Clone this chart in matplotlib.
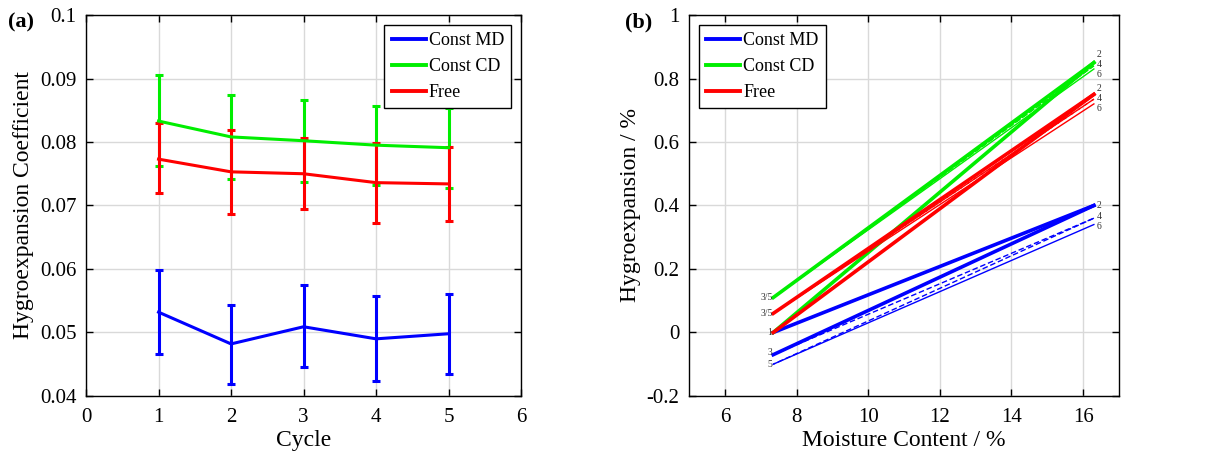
import matplotlib.pyplot as plt
from matplotlib.lines import Line2D

plt.rcParams['font.family'] = ['Liberation Serif', 'DejaVu Serif']
plt.rcParams['mathtext.fontset'] = 'stix'

# --- (a) hygroexpansion coefficient per cycle ---
cycles = [1, 2, 3, 4, 5]

md_mean = [0.0532, 0.0482, 0.0509, 0.0490, 0.0498]
md_low = [0.0466, 0.0419, 0.0446, 0.0424, 0.0435]
md_high = [0.0599, 0.0544, 0.0574, 0.0558, 0.0560]

cd_mean = [0.0833, 0.0808, 0.0802, 0.0795, 0.0791]
cd_low = [0.0762, 0.0741, 0.0737, 0.0733, 0.0727]
cd_high = [0.0905, 0.0874, 0.0866, 0.0856, 0.0853]

free_mean = [0.0773, 0.0753, 0.0750, 0.0736, 0.0734]
free_low = [0.0719, 0.0686, 0.0694, 0.0673, 0.0676]
free_high = [0.0830, 0.0819, 0.0806, 0.0799, 0.0792]

# --- (b) hygroexpansion vs moisture content, turning points 1..6 ---
mc_dry = 7.35
mc_wet = 16.3
md_turns = [0.0, 0.40, -0.07, 0.36, -0.10, 0.34]
cd_turns = [0.0, 0.85, 0.11, 0.84, 0.11, 0.83]
free_turns = [0.0, 0.75, 0.06, 0.735, 0.06, 0.72]
turn_names = ['1', '2', '3', '4', '5', '6']

names = ['Const MD', 'Const CD', 'Free']
colors = ['#0000ff', '#00ee00', '#ff0000']

fig = plt.figure(figsize=(12.05, 4.59), dpi=100)
ax1 = fig.add_axes([0.0714, 0.1373, 0.361, 0.830])
ax2 = fig.add_axes([0.5718, 0.1373, 0.3568, 0.830])

tick_fs = 15
label_fs = 17


def style_axes(ax):
    ax.grid(True, color='#d9d9d9', linewidth=1)
    ax.set_axisbelow(True)
    ax.tick_params(direction='in', length=5, width=1, labelsize=tick_fs,
                   top=True, right=True)
    ax.tick_params(axis='x', pad=9)
    ax.tick_params(axis='y', pad=7)
    ax.xaxis.labelpad = 2
    for s in ax.spines.values():
        s.set_linewidth(1)


def add_legend(ax, loc):
    handles = [Line2D([], [], color=c, linewidth=2.8) for c in colors]
    leg = ax.legend(handles, names, loc=loc, fontsize=13, frameon=True,
                    fancybox=False, edgecolor='black', framealpha=1,
                    handlelength=1.9, handletextpad=0.15, borderpad=0.4,
                    labelspacing=0.5, borderaxespad=0.55)
    leg.get_frame().set_linewidth(1)


# (a)
for mean, low, high, c in [(md_mean, md_low, md_high, colors[0]),
                           (cd_mean, cd_low, cd_high, colors[1]),
                           (free_mean, free_low, free_high, colors[2])]:
    err = [[m - l for m, l in zip(mean, low)], [h - m for m, h in zip(mean, high)]]
    ax1.errorbar(cycles, mean, yerr=err, color=c, linewidth=2.2,
                 elinewidth=2.2, capsize=3, capthick=2.2)
ax1.set_xlim(0, 6)
ax1.set_ylim(0.04, 0.1)
ax1.set_xticks(range(0, 7))
ax1.set_yticks([0.04, 0.05, 0.06, 0.07, 0.08, 0.09, 0.1])
ax1.set_yticklabels(['0.04', '0.05', '0.06', '0.07', '0.08', '0.09', '0.1'])
ax1.set_xlabel('Cycle', fontsize=label_fs)
ax1.set_ylabel('Hygroexpansion Coefficient', fontsize=label_fs)
style_axes(ax1)
add_legend(ax1, 'upper right')

# (b)
seg_styles = [('-', 2.6), ('-', 2.6), ('--', 1.0), ('--', 1.0), ('-', 1.0)]
# small vertical nudges so the end labels 2/4/6 don't sit on top of each other
right_offsets = {0: [0.0, 0.005, -0.006],
                 1: [0.025, 0.005, -0.016],
                 2: [0.018, 0.002, -0.014]}
for i, (turns, c) in enumerate([(md_turns, colors[0]), (cd_turns, colors[1]),
                                (free_turns, colors[2])]):
    xs = [mc_dry if k % 2 == 0 else mc_wet for k in range(len(turns))]
    for k in range(len(turns) - 1):
        ls, lw = seg_styles[k]
        ax2.plot(xs[k:k + 2], turns[k:k + 2], color=c, linestyle=ls, linewidth=lw,
                 dashes=(4, 2) if ls == '--' else (None, None))
    for j, k in enumerate([1, 3, 5]):
        ax2.text(mc_wet + 0.08, turns[k] + right_offsets[i][j], turn_names[k],
                 fontsize=7, ha='left', va='center', color='#333333')

# labels at the dry end
end_kw = dict(fontsize=7, ha='right', va='center', color='#333333')
ax2.text(mc_dry - 0.02, cd_turns[2], '3/5', **end_kw)
ax2.text(mc_dry - 0.02, free_turns[2], '3/5', **end_kw)
ax2.text(mc_dry - 0.02, 0.0, '1', **end_kw)
ax2.text(mc_dry - 0.02, md_turns[2] + 0.008, '3', **end_kw)
ax2.text(mc_dry - 0.02, md_turns[4], '5', **end_kw)

ax2.set_xlim(5, 17)
ax2.set_ylim(-0.2, 1)
ax2.set_xticks([6, 8, 10, 12, 14, 16])
ax2.set_yticks([-0.2, 0, 0.2, 0.4, 0.6, 0.8, 1])
ax2.set_yticklabels(['-0.2', '0', '0.2', '0.4', '0.6', '0.8', '1'])
ax2.set_xlabel('Moisture Content / %', fontsize=label_fs)
ax2.set_ylabel('Hygroexpansion / %', fontsize=label_fs)
style_axes(ax2)
add_legend(ax2, 'upper left')

fig.text(0.007, 0.952, '(a)', fontsize=16, fontweight='bold', va='center')
fig.text(0.519, 0.952, '(b)', fontsize=16, fontweight='bold', va='center')

fig.savefig('out.png', dpi=100)
